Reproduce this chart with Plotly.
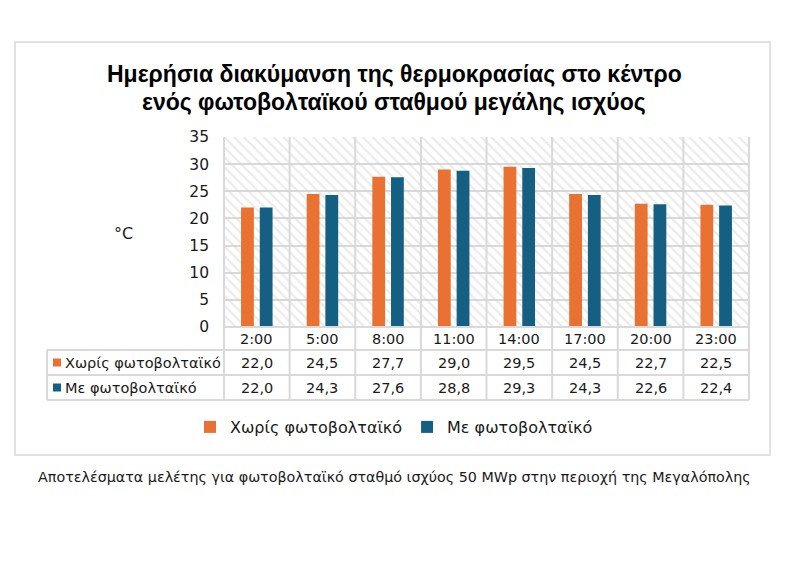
import plotly.graph_objects as go

categories = ["2:00", "5:00", "8:00", "11:00", "14:00", "17:00", "20:00", "23:00"]
without_pv = [22.0, 24.5, 27.7, 29.0, 29.5, 24.5, 22.7, 22.5]
with_pv = [22.0, 24.3, 27.6, 28.8, 29.3, 24.3, 22.6, 22.4]
series_names = ["Χωρίς φωτοβολταϊκό", "Με φωτοβολταϊκό"]
colors = ["#E97132", "#156082"]
title_lines = ["Ημερήσια διακύμανση της θερμοκρασίας στο κέντρο",
               "ενός φωτοβολταϊκού σταθμού μεγάλης ισχύος"]
caption = "Αποτελέσματα μελέτης για φωτοβολταϊκό σταθμό ισχύος 50 MWp στην περιοχή της Μεγαλόπολης"
y_unit = "°C"
y_max = 35

W, H = 788, 570
L, R, T, B = 224, 749, 137, 327
FONT = "DejaVu Sans"
GRID = "#d9d9d9"
TXT = "#1a1a1a"


def px(x):
    return (x - L) / (R - L)


def py(y):
    return (B - y) / (B - T)


n = len(categories)
xs = list(range(n))

fig = go.Figure()
# hatched plot-area background (one full-width cell per category)
fig.add_trace(go.Bar(
    x=xs, y=[y_max] * n, width=1, offset=-0.5,
    marker=dict(color="rgba(0,0,0,0)", line=dict(width=0),
                pattern=dict(shape="\\", fgcolor="#d3d3d3", bgcolor="rgba(0,0,0,0)", size=7, solidity=0.28)),
    showlegend=False, hoverinfo="skip"))

offsets = [-0.24, 0.045]
for name, vals, c, off in zip(series_names, [without_pv, with_pv], colors, offsets):
    fig.add_trace(go.Bar(x=xs, y=vals, name=name, width=0.195, offset=off,
                         marker=dict(color=c, line=dict(width=0))))

shapes = []
# outer frame
shapes.append(dict(type="rect", xref="paper", yref="paper", x0=px(15), x1=px(770), y0=py(42), y1=py(455),
                   line=dict(color=GRID, width=1.5)))
# table horizontal lines
shapes.append(dict(type="line", xref="paper", yref="paper", x0=0, x1=1, y0=py(327), y1=py(327),
                   line=dict(color=GRID, width=2)))
for yy in (350, 375, 400):
    shapes.append(dict(type="line", xref="paper", yref="paper", x0=px(47), x1=1, y0=py(yy), y1=py(yy),
                       line=dict(color=GRID, width=2)))
# vertical lines
for k in range(n + 1):
    shapes.append(dict(type="line", xref="paper", yref="paper", x0=k / n, x1=k / n, y0=1, y1=py(400),
                       line=dict(color=GRID, width=2)))
shapes.append(dict(type="line", xref="paper", yref="paper", x0=px(47), x1=px(47), y0=py(350), y1=py(400),
                   line=dict(color=GRID, width=2)))

annotations = []
for i, cat in enumerate(categories):
    annotations.append(dict(x=i, xref="x", xanchor="center", y=py(339), yref="paper", yanchor="middle",
                            text=cat, showarrow=False,
                            font=dict(family=FONT, size=14.5, color=TXT)))
for row_y, vals in zip((362.5, 387.5), (without_pv, with_pv)):
    for i, v in enumerate(vals):
        annotations.append(dict(x=i, xref="x", xanchor="center", y=py(row_y), yref="paper", yanchor="middle",
                                text=f"{v:.1f}".replace(".", ","), showarrow=False,
                                font=dict(family=FONT, size=14.5, color=TXT)))
for row_y, name, c in zip((362.5, 387.5), series_names, colors):
    annotations.append(dict(x=px(63), xref="paper", xanchor="left", y=py(row_y), yref="paper",
                            yanchor="middle", text=name, showarrow=False,
                            font=dict(family=FONT, size=14.5, color=TXT)))
    shapes.append(dict(type="rect", xref="paper", yref="paper", x0=px(53), x1=px(61),
                       y0=py(row_y + 4), y1=py(row_y - 4), fillcolor=c, line=dict(width=0)))

annotations.append(dict(x=px(123), xref="paper", xanchor="center", y=py(233), yref="paper", yanchor="middle",
                        text=y_unit, showarrow=False, font=dict(family=FONT, size=16, color=TXT)))
annotations.append(dict(x=px(394), xref="paper", xanchor="center", y=py(477), yref="paper", yanchor="middle",
                        text=caption, showarrow=False, font=dict(family=FONT, size=14.3, color=TXT)))
for line_y, line in zip((74, 102), title_lines):
    annotations.append(dict(x=px(394), xref="paper", xanchor="center", y=py(line_y), yref="paper",
                            yanchor="middle", text=f"<b>{line}</b>", showarrow=False,
                            font=dict(family="Liberation Sans", size=23, color="black")))

fig.update_layout(
    width=W, height=H,
    margin=dict(l=L, r=W - R, t=T, b=H - B),
    paper_bgcolor="white", plot_bgcolor="white",
    barmode="overlay",
    xaxis=dict(range=[-0.5, n - 0.5], showticklabels=False, showgrid=False, zeroline=False,
               showline=False, fixedrange=True),
    yaxis=dict(range=[0, y_max], dtick=5, showgrid=True, gridcolor=GRID, gridwidth=2, zeroline=False,
               showline=False, ticklabelstandoff=14,
               tickfont=dict(family=FONT, size=15.5, color=TXT)),
    legend=dict(orientation="h", x=0.5, xref="container", xanchor="center",
                y=1 - 427 / H, yref="container", yanchor="middle",
                font=dict(family=FONT, size=16, color=TXT), traceorder="normal"),
    shapes=shapes, annotations=annotations,
    showlegend=True,
)

fig.write_html("out.html")
